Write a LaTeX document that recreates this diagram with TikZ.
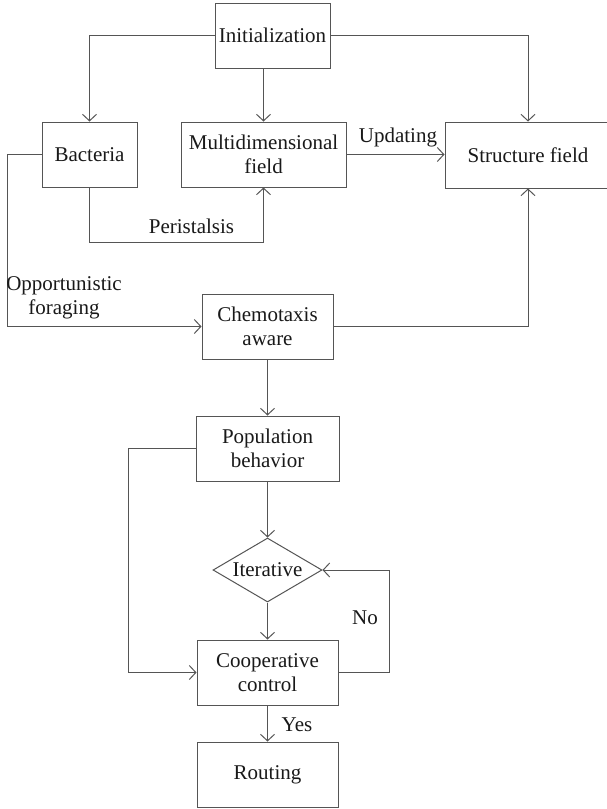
\documentclass[tikz,border=0pt]{standalone}
\usepackage{fontspec}
\setmainfont{Liberation Serif}
\usetikzlibrary{arrows.meta,shapes.geometric,calc}
\definecolor{ln}{RGB}{85,85,85}
\definecolor{tx}{RGB}{25,25,25}
\begin{document}
\begin{tikzpicture}[x=1pt,y=-1pt,
  every node/.style={font=\fontsize{21}{24}\selectfont, text=tx},
  box/.style={draw=ln, line width=1pt, rectangle, inner sep=0pt, align=center},
  dia/.style={draw=ln, line width=1pt, diamond, inner sep=0pt},
  arr/.style={draw=ln, line width=1pt, -{Straight Barb[length=6.5pt,width=14pt,line width=1pt]}},
  lbl/.style={inner sep=0pt, align=center}]
\useasboundingbox (0,0) rectangle (607,809);
\clip (0,0) rectangle (607,809);
\fill[white] (0,0) rectangle (607,809);
% nodes
\node[box, minimum width=115pt, minimum height=65pt] (init) at (272.5,35.5) {Initialization};
\node[box, minimum width=95pt, minimum height=65pt] (bact) at (89.5,154.5) {Bacteria};
\node[box, minimum width=165pt, minimum height=65pt] (multi) at (263.5,154.5) {Multidimensional\\field};
\node[box, minimum width=166pt, minimum height=66pt] (struct) at (528,155) {Structure field};
\node[box, minimum width=131pt, minimum height=65pt] (chemo) at (267.5,326.5) {Chemotaxis\\aware};
\node[box, minimum width=143pt, minimum height=65pt] (pop) at (267.5,448.5) {Population\\behavior};
\node[dia, minimum width=109pt, minimum height=64pt, aspect=1.7] (iter) at (267.5,570) {};
\node[lbl] at (iter.center) {Iterative};
\node[box, minimum width=141pt, minimum height=65pt] (coop) at (267.5,672.5) {Cooperative\\control};
\node[box, minimum width=141pt, minimum height=65pt] (rout) at (267.5,774.5) {Routing};
% helper coordinates
\coordinate (ol) at (7,0);
\coordinate (pb) at (0,242);
\coordinate (pl) at (128,0);
\coordinate (nr) at (389,0);
% connectors
\draw[arr] (init.west) -| (bact.north);
\draw[arr] (init.south -| multi.north) -- (multi.north);
\draw[arr] (init.east) -| (struct.north);
\draw[arr] (multi.east) -- (multi.east -| struct.west);
\draw[arr] (bact.west) -- (bact.west -| ol) |- (chemo.west);
\draw[arr] (bact.south) -- (bact.south |- pb) -| (multi.south);
\draw[arr] (chemo.east) -| (struct.south);
\draw[arr] (chemo.south) -- (pop.north);
\draw[arr] (pop.west) -- (pop.west -| pl) |- (coop.west);
\draw[arr] (pop.south) -- (iter.north);
\draw[arr] (iter.south) -- (coop.north);
\draw[arr] (coop.east) -- (coop.east -| nr) |- (iter.east);
\draw[arr] (coop.south) -- (rout.north);
% labels
\node[lbl] at (398,137) {Updating};
\node[lbl] at (191.5,226) {Peristalsis};
\node[lbl] at (64,298) {Opportunistic\\foraging};
\node[lbl] at (365,618) {No};
\node[lbl] at (297,725) {Yes};
\end{tikzpicture}
\end{document}
